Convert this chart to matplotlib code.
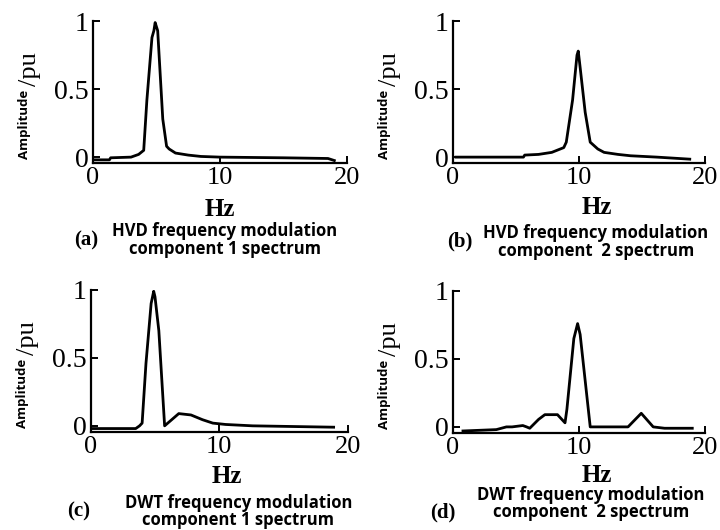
import matplotlib
matplotlib.use('Agg')
import matplotlib.pyplot as plt
from matplotlib.transforms import ScaledTranslation

# spectra (Hz, per-unit amplitude)
hvd1_hz = [0.0, 1.3, 1.4, 3.0, 3.6, 4.0, 4.25, 4.65, 4.8, 4.9, 5.0, 5.1, 5.5, 5.8, 6.0, 6.5, 7.5, 8.5, 10.0, 15.0, 18.5, 19.0]
hvd1_amp = [-0.02, -0.02, -0.005, 0.0, 0.02, 0.05, 0.42, 0.88, 0.93, 0.99, 0.96, 0.93, 0.28, 0.08, 0.06, 0.03, 0.015, 0.005, 0.0, -0.005, -0.01, -0.025]

hvd2_hz = [0.25, 5.6, 5.7, 6.8, 7.85, 8.8, 9.0, 9.5, 9.85, 9.95, 10.1, 10.5, 10.9, 11.5, 12.0, 13.1, 14.1, 16.2, 18.8]
hvd2_amp = [0.0, 0.0, 0.015, 0.02, 0.035, 0.07, 0.11, 0.42, 0.75, 0.78, 0.66, 0.33, 0.11, 0.06, 0.035, 0.02, 0.01, 0.0, -0.015]

dwt1_hz = [0.0, 3.5, 3.8, 4.0, 4.3, 4.7, 4.9, 5.0, 5.3, 5.75, 6.85, 7.8, 8.7, 9.5, 10.5, 12.6, 18.9]
dwt1_amp = [-0.02, -0.02, 0.0, 0.02, 0.46, 0.9, 0.99, 0.95, 0.7, 0.0, 0.09, 0.08, 0.045, 0.02, 0.01, 0.0, -0.01]

dwt2_hz = [0.8, 3.45, 4.25, 4.7, 5.55, 5.85, 6.1, 6.8, 7.3, 8.3, 8.9, 9.05, 9.6, 9.9, 10.1, 10.9, 13.9, 14.95, 15.9, 16.8, 19.0]
dwt2_amp = [-0.03, -0.02, 0.0, 0.0, 0.01, 0.0, -0.01, 0.055, 0.09, 0.09, 0.03, 0.13, 0.65, 0.76, 0.68, 0.0, 0.0, 0.1, 0.0, -0.01, -0.01]

panels = [
    (hvd1_hz, hvd1_amp, '(a)', 'HVD frequency modulation', 'component 1 spectrum'),
    (hvd2_hz, hvd2_amp, '(b)', 'HVD frequency modulation', 'component  2 spectrum'),
    (dwt1_hz, dwt1_amp, '(c)', 'DWT frequency modulation', 'component 1 spectrum'),
    (dwt2_hz, dwt2_amp, '(d)', 'DWT frequency modulation', 'component  2 spectrum'),
]

x_ticks = [0, 10, 20]
y_ticks = [0, 0.5, 1]
y_tick_labels = ['0', '0.5', '1']

serif = 'Liberation Serif'
sans = 'Open Sans'

fig = plt.figure(figsize=(7.2, 5.3), dpi=100)

# axes boxes in figure fractions (left, bottom, width, height)
boxes = [
    (0.129, 0.692, 0.353, 0.268),
    (0.629, 0.692, 0.350, 0.268),
    (0.126, 0.185, 0.357, 0.268),
    (0.629, 0.183, 0.350, 0.268),
]

# pixel offsets per panel:
# tag dx (from left), tag dy, caption dx (from centre), line1 dy, line2 dy, Hz dx, Hz dy
cap_pos = [
    (-7, -77, 5, -68, -86, 0, -46),
    (7, -78, 17, -70, -88, 18, -44),
    (-12, -80, 19, -71, -88, 8, -45),
    (-10, -79, 12, -62, -79, 18, -42),
]


def place(ax, fx, dx, dy, s, **kw):
    # put text at axes fraction (fx, 0) shifted by pixel offsets
    tr = ax.transAxes + ScaledTranslation(dx / 100, dy / 100, fig.dpi_scale_trans)
    ax.text(fx, 0, s, transform=tr, clip_on=False, **kw)


for box, (hz, amp, tag, line1, line2), pos in zip(boxes, panels, cap_pos):
    ax = fig.add_axes(box)
    ax.plot(hz, amp, color='black', lw=2.0)
    ax.set_xlim(0, 20)
    ax.set_ylim(-0.045, 1.0)
    ax.spines['top'].set_visible(False)
    ax.spines['right'].set_visible(False)
    ax.spines['left'].set_linewidth(1.6)
    ax.spines['bottom'].set_linewidth(1.6)
    ax.set_xticks(x_ticks)
    ax.set_yticks(y_ticks)
    ax.set_yticklabels(y_tick_labels)
    ax.tick_params(direction='in', length=5, width=1.4)
    ax.tick_params(axis='x', pad=3, labelsize=19)
    ax.tick_params(axis='y', pad=3, labelsize=20)
    for lab in ax.get_xticklabels() + ax.get_yticklabels():
        lab.set_family(serif)

    tag_dx, tag_dy, txt_dx, l1_dy, l2_dy, hz_dx, hz_dy = pos
    place(ax, 0.5, hz_dx, hz_dy, 'Hz', family=serif, fontweight='bold', fontsize=18,
          ha='center', va='center')
    place(ax, 0, -68, 39, 'Amplitude', family=sans, fontweight='bold', fontsize=9.5,
          rotation=90, ha='center', va='center')
    place(ax, 0, -63, 77, '/pu', family=serif, fontsize=19,
          rotation=90, ha='center', va='bottom')

    place(ax, 0, tag_dx, tag_dy, tag, family=serif, fontweight='bold', fontsize=15,
          ha='center', va='center')
    place(ax, 0.5, txt_dx, l1_dy, line1, family=sans, fontweight='bold', fontsize=12,
          ha='center', va='center')
    place(ax, 0.5, txt_dx, l2_dy, line2, family=sans, fontweight='bold', fontsize=12,
          ha='center', va='center')

fig.savefig('out.png', dpi=100)
